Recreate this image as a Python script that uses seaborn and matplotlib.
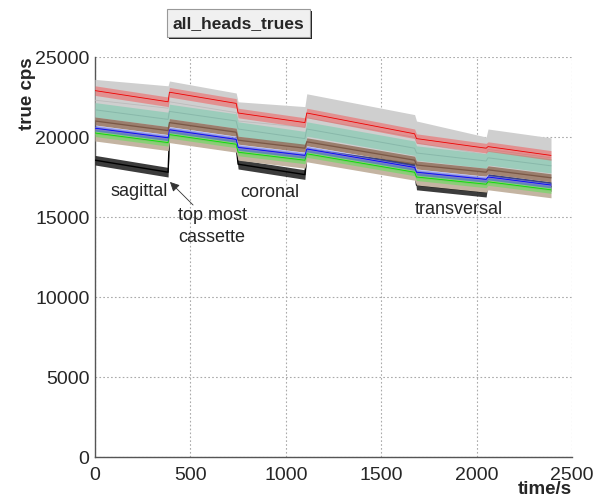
import matplotlib
matplotlib.use("Agg")
import matplotlib.pyplot as plt
from matplotlib.patches import Rectangle
from matplotlib.ticker import MultipleLocator
import pandas as pd
import seaborn as sns

# ---------------- data ----------------
# measurement segments (s): sagittal, -, coronal, -, transversal, -
seg_start_t = [0, 390, 750, 1110, 1685, 2060]
seg_end_t = [383, 740, 1100, 1675, 2050, 2390]

# envelope of the many grey curves (top / bottom)
gray_hi_start = [23600, 23500, 22200, 22700, 21000, 20500]
gray_hi_end = [23200, 22750, 21900, 21400, 20000, 19950]
gray_lo_start = [21000, 20900, 19800, 19700, 18250, 17950]
gray_lo_end = [20400, 20300, 19300, 18550, 17800, 17450]

# centre values of the coloured curves at segment start / end
teal_start = [21700, 21600, 20500, 20500, 19000, 18700]
teal_end = [21100, 21000, 19900, 19300, 18500, 18200]
red_start = [22900, 22800, 21500, 21500, 19900, 19400]
red_end = [22200, 22100, 20900, 20200, 19300, 18850]
brown_start = [21000, 20900, 19800, 19700, 18250, 17950]
brown_end = [20400, 20300, 19300, 18550, 17800, 17450]
blue_start = [20550, 20450, 19350, 19250, 17800, 17500]
blue_end = [19950, 19850, 18850, 18100, 17350, 17000]
green_start = [20250, 20150, 19050, 18950, 17500, 17200]
green_end = [19650, 19550, 18550, 17800, 17050, 16700]
tan_start = [20200, 20100, 19000, 18900, 17450, 17150]
tan_end = [19600, 19500, 18500, 17750, 17000, 16650]
black_start = [18550, 20000, 18300, 19000, 17000, 17400]
black_end = [17800, 19400, 17650, 18100, 16550, 16900]

# half width of the fluctuation of each curve (cps)
spread = {"teal": 450, "red": 300, "brown": 250, "blue": 180,
          "green": 220, "tan": 450, "black": 300}

# ---------------- build long table ----------------
rows = []
def add_band(name, lo_s, lo_e, hi_s, hi_e):
    for i in range(len(seg_start_t)):
        for t, lo, hi in ((seg_start_t[i], lo_s[i], hi_s[i]),
                          (seg_end_t[i], lo_e[i], hi_e[i])):
            rows.append((name, t, lo))
            rows.append((name, t, hi))

def add_series(name, cs, ce):
    w = spread[name]
    add_band(name, [c - w for c in cs], [c - w for c in ce],
             [c + w for c in cs], [c + w for c in ce])

add_series("black", black_start, black_end)
add_band("gray", gray_lo_start, gray_lo_end, gray_hi_start, gray_hi_end)
add_series("teal", teal_start, teal_end)
add_series("tan", tan_start, tan_end)
add_series("brown", brown_start, brown_end)
add_series("green", green_start, green_end)
add_series("blue", blue_start, blue_end)
add_series("red", red_start, red_end)
df = pd.DataFrame(rows, columns=["series", "t", "cps"])

# band colour, line colour, band alpha, line width
style = {
    "black": ("#1a1a1a", "#000000", 0.85, 1.0),
    "gray":  ("#cfcfcf", "#bbbbbb", 1.0, 0.6),
    "teal":  ("#9accba", "#88b8aa", 0.95, 0.7),
    "tan":   ("#c4b4a2", "#b3a18e", 1.0, 0.7),
    "brown": ("#92705c", "#7a5846", 0.85, 0.9),
    "green": ("#44ee44", "#00dd00", 0.45, 0.6),
    "blue":  ("#3344ee", "#0000ff", 0.5, 0.6),
    "red":   ("#ff3333", "#ee0000", 0.4, 0.6),
}

# ---------------- figure ----------------
sns.set_style("white")
plt.rcParams["font.family"] = ["Liberation Sans", "DejaVu Sans"]

fig = plt.figure(figsize=(6.0, 5.01), dpi=100)
ax = fig.add_axes([95 / 600, 1 - 457 / 501, (572 - 95) / 600, (457 - 57) / 501])

order = ["black", "gray", "teal", "tan", "brown", "green", "blue", "red"]
for k, name in enumerate(order):
    band_c, line_c, a, lw = style[name]
    sub = df[df["series"] == name]
    sns.lineplot(data=sub, x="t", y="cps", estimator="mean",
                 errorbar=("pi", 100), color=line_c, linewidth=lw,
                 zorder=3 + 2 * k + 1,
                 err_kws={"alpha": a, "facecolor": band_c, "linewidth": 0,
                          "zorder": 3 + 2 * k},
                 ax=ax, legend=False)

ax.set_xlim(0, 2500)
ax.set_ylim(0, 25000)
ax.xaxis.set_major_locator(MultipleLocator(500))
ax.xaxis.set_minor_locator(MultipleLocator(100))
ax.yaxis.set_major_locator(MultipleLocator(5000))
ax.yaxis.set_minor_locator(MultipleLocator(1000))
ax.grid(True, which="major", linestyle=(0, (1.5, 2)), color="#aaaaaa", linewidth=0.8)
ax.set_axisbelow(True)
for s in ("top", "right"):
    ax.spines[s].set_visible(False)
for s in ("left", "bottom"):
    ax.spines[s].set_color("#555555")
    ax.spines[s].set_linewidth(1.0)
ax.tick_params(axis="both", which="major", direction="in", length=11,
               width=0.9, color="#555555", labelsize=14)
ax.tick_params(axis="both", which="minor", direction="in", length=6,
               width=0.9, color="#555555")
ax.tick_params(axis="x", pad=7)
ax.tick_params(axis="y", pad=4)
ax.set_xlabel("")
ax.set_ylabel("")

# axis titles (ROOT style)
fig.text(28 / 600, 1 - 57 / 501, "true cps", rotation=90, ha="center",
         va="top", fontsize=13.5, fontweight="bold")
fig.text(572 / 600, 1 - 489 / 501, "time/s", ha="right", va="center",
         fontsize=13.5, fontweight="bold")

# annotations
ax.text(79, 16625, "sagittal", fontsize=13, va="center", ha="left")
ax.text(760, 16560, "coronal", fontsize=13, va="center", ha="left")
ax.text(1677, 15440, "transversal", fontsize=13, va="center", ha="left")
ax.text(435, 15125, "top most", fontsize=13, va="center", ha="left")
ax.text(435, 13690, "cassette", fontsize=13, va="center", ha="left")
ax.annotate("", xy=(393, 17190), xytext=(514, 15750),
            arrowprops=dict(arrowstyle="-|>", color="#333333", lw=0.6,
                            mutation_scale=14, shrinkA=0, shrinkB=0))

# title box with shadow
fig.add_artist(Rectangle((169 / 600, 1 - 39 / 501), 143 / 600, 28 / 501,
                         transform=fig.transFigure, facecolor="#222222",
                         edgecolor="none"))
fig.add_artist(Rectangle((167 / 600, 1 - 37 / 501), 143 / 600, 28 / 501,
                         transform=fig.transFigure, facecolor="#f0f0f0",
                         edgecolor="#999999", linewidth=0.8))
fig.text(238.5 / 600, 1 - 23.5 / 501, "all_heads_trues", ha="center",
         va="center", fontsize=12.5, fontweight="bold")

fig.savefig("out.png", dpi=100)
